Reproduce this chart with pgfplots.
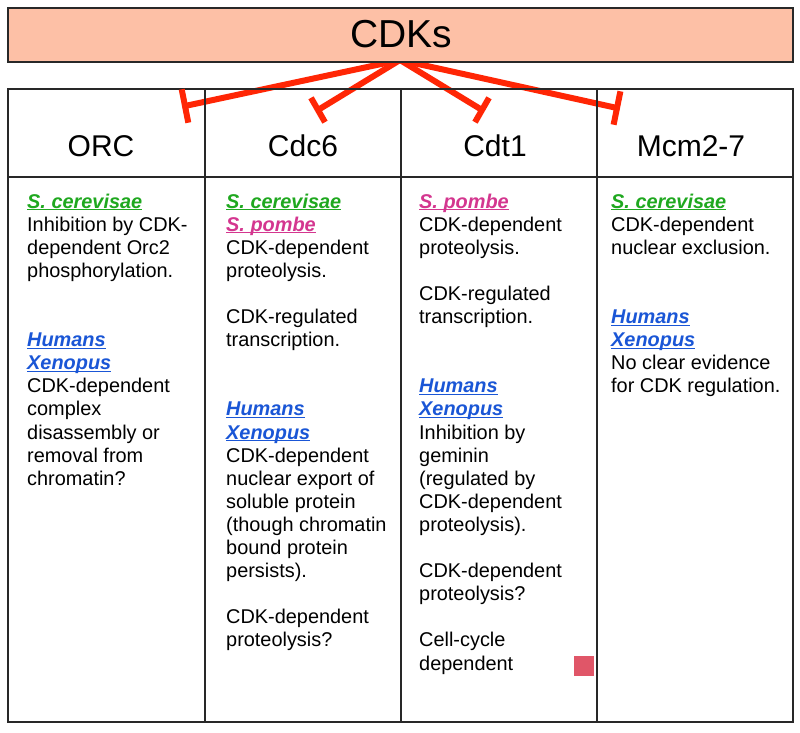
\documentclass[border=0pt]{standalone}
\usepackage{fontspec}
\setmainfont{Liberation Sans}
\usepackage{pgfplots}
\pgfplotsset{compat=1.18}
\definecolor{boxfill}{RGB}{253,192,166}
\definecolor{inhib}{RGB}{255,38,5}
\definecolor{sgreen}{RGB}{31,168,31}
\definecolor{spink}{RGB}{212,54,143}
\definecolor{sblue}{RGB}{26,86,214}
\definecolor{sq}{RGB}{224,86,104}
\definecolor{frame}{RGB}{40,40,40}
\newcommand\ulx[1]{\setbox0\hbox{#1}\rlap{\rule[-2.3pt]{\wd0}{1.1pt}}\box0}
\newcommand\spc[1]{\textbf{\textit{\ulx{#1}}}}
\newcommand\bodyfont{\fontsize{19.9}{23}\selectfont}
\newcommand\T[3]{\node[anchor=base west,inner sep=0pt,font=\bodyfont] at (axis cs:#1,{208+23.1*#2}) {#3};}
\begin{document}
\begin{tikzpicture}
\begin{axis}[
  width=800pt, height=733pt, scale only axis,
  xmin=0, xmax=800, ymin=0, ymax=733, y dir=reverse,
  hide axis, clip=false]
% background
\addplot[draw=none, fill=white] coordinates {(0,0) (800,0) (800,733) (0,733)} -- cycle;
% inhibition lines
\addplot[inhib, line width=6pt] coordinates {(400,60) (185,106)};
\addplot[inhib, line width=6pt] coordinates {(400,60) (318,110)};
\addplot[inhib, line width=6pt] coordinates {(400,60) (482,110)};
\addplot[inhib, line width=6pt] coordinates {(400,60) (617,108)};
% CDKs box
\addplot[draw=frame, line width=1.6pt, fill=boxfill] coordinates {(8,8) (793,8) (793,62) (8,62)} -- cycle;
% table frame
\addplot[draw=frame, line width=1.6pt] coordinates {(8,89) (793,89) (793,722) (8,722)} -- cycle;
\addplot[frame, line width=1.4pt] coordinates {(8,177) (793,177)};
\addplot[frame, line width=1.4pt] coordinates {(205,89) (205,722)};
\addplot[frame, line width=1.4pt] coordinates {(401,89) (401,722)};
\addplot[frame, line width=1.4pt] coordinates {(597,89) (597,722)};
% T bars
\addplot[inhib, line width=6pt] coordinates {(181.7,89.3) (188.3,122.7)};
\addplot[inhib, line width=6pt] coordinates {(311,97.8) (325,122.2)};
\addplot[inhib, line width=6pt] coordinates {(489,97.8) (475,122.2)};
\addplot[inhib, line width=6pt] coordinates {(620.4,91.3) (613.6,124.7)};
% pink square
\addplot[draw=none, fill=sq] coordinates {(574,655.5) (594,655.5) (594,675.5) (574,675.5)} -- cycle;
% titles
\node[anchor=base, inner sep=0pt, font=\fontsize{39}{41}\selectfont] at (axis cs:401,48) {CDKs};
\node[anchor=base, inner sep=0pt, font=\fontsize{30}{32}\selectfont] at (axis cs:101,156) {ORC};
\node[anchor=base, inner sep=0pt, font=\fontsize{30}{32}\selectfont] at (axis cs:303,156) {Cdc6};
\node[anchor=base, inner sep=0pt, font=\fontsize{30}{32}\selectfont] at (axis cs:495,156) {Cdt1};
\node[anchor=base, inner sep=0pt, font=\fontsize{30}{32}\selectfont] at (axis cs:691,156) {Mcm2-7};
% column 1
\T{27}{0}{\color{sgreen}\spc{S. cerevisae}}
\T{27}{1}{Inhibition by CDK-}
\T{27}{2}{dependent Orc2}
\T{27}{3}{phosphorylation.}
\T{27}{6}{\color{sblue}\spc{Humans}}
\T{27}{7}{\color{sblue}\spc{Xenopus}}
\T{27}{8}{CDK-dependent}
\T{27}{9}{complex}
\T{27}{10}{disassembly or}
\T{27}{11}{removal from}
\T{27}{12}{chromatin?}
% column 2
\T{226}{0}{\color{sgreen}\spc{S. cerevisae}}
\T{226}{1}{\color{spink}\spc{S. pombe}}
\T{226}{2}{CDK-dependent}
\T{226}{3}{proteolysis.}
\T{226}{5}{CDK-regulated}
\T{226}{6}{transcription.}
\T{226}{9}{\color{sblue}\spc{Humans}}
\T{226}{10}{\color{sblue}\spc{Xenopus}}
\T{226}{11}{CDK-dependent}
\T{226}{12}{nuclear export of}
\T{226}{13}{soluble protein}
\T{226}{14}{(though chromatin}
\T{226}{15}{bound protein}
\T{226}{16}{persists).}
\T{226}{18}{CDK-dependent}
\T{226}{19}{proteolysis?}
% column 3
\T{419}{0}{\color{spink}\spc{S. pombe}}
\T{419}{1}{CDK-dependent}
\T{419}{2}{proteolysis.}
\T{419}{4}{CDK-regulated}
\T{419}{5}{transcription.}
\T{419}{8}{\color{sblue}\spc{Humans}}
\T{419}{9}{\color{sblue}\spc{Xenopus}}
\T{419}{10}{Inhibition by}
\T{419}{11}{geminin}
\T{419}{12}{(regulated by}
\T{419}{13}{CDK-dependent}
\T{419}{14}{proteolysis).}
\T{419}{16}{CDK-dependent}
\T{419}{17}{proteolysis?}
\T{419}{19}{Cell-cycle}
\T{419}{20}{dependent}
% column 4
\T{611}{0}{\color{sgreen}\spc{S. cerevisae}}
\T{611}{1}{CDK-dependent}
\T{611}{2}{nuclear exclusion.}
\T{611}{5}{\color{sblue}\spc{Humans}}
\T{611}{6}{\color{sblue}\spc{Xenopus}}
\T{611}{7}{No clear evidence}
\T{611}{8}{for CDK regulation.}
\end{axis}
\end{tikzpicture}
\end{document}
